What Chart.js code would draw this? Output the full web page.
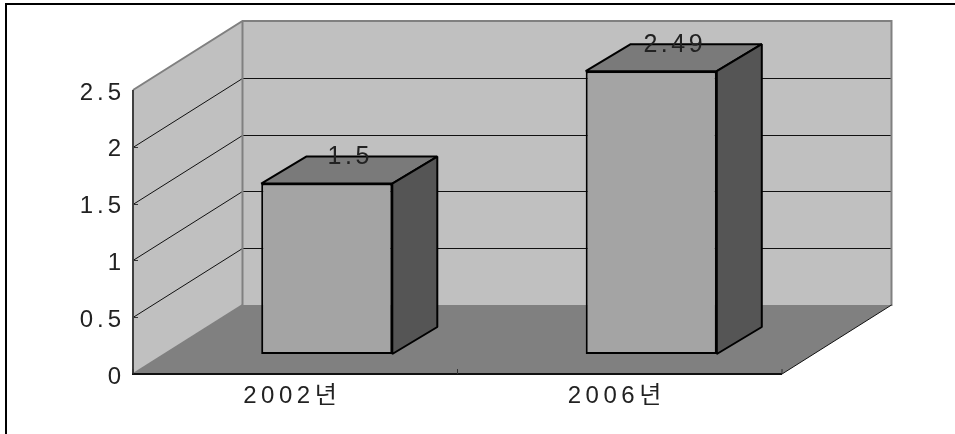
<!DOCTYPE html>
<html>
<head>
<meta charset="utf-8">
<style>
    html, body { margin: 0; padding: 0; background: #fff; overflow: hidden; }
    canvas { display: block; }
</style>
<script src="https://cdn.jsdelivr.net/npm/chart.js@4"></script>
</head>
<body>
<canvas id="barChart" width="955" height="434"></canvas>
<script>
const categories = ['2002년', '2006년'];
const values = [1.5, 2.49];
const valueLabels = ['1.5', '2.49'];
const yMax = 2.5;
const yStep = 0.5;

/** Offsets of the fake 3D box, in pixels. */
const wallDepth = { x: 109.5, y: -69 };
const barStart = { x: 31.5, y: -20 };
const barDepth = { x: 45, y: -27 };
const fontName = '"Liberation Sans", "Noto Sans CJK KR", sans-serif';

function line(ctx, color, width, points) {
    ctx.strokeStyle = color;
    ctx.lineWidth = width;
    ctx.beginPath();
    points.forEach(function(p, i) {
        if (i === 0) ctx.moveTo(p[0], p[1]);
        else ctx.lineTo(p[0], p[1]);
    });
    ctx.stroke();
}

function face(ctx, color, points) {
    ctx.fillStyle = color;
    ctx.strokeStyle = '#000';
    ctx.lineWidth = 2;
    ctx.lineJoin = 'bevel';
    ctx.beginPath();
    points.forEach(function(p, i) {
        if (i === 0) ctx.moveTo(p[0], p[1]);
        else ctx.lineTo(p[0], p[1]);
    });
    ctx.closePath();
    ctx.fill();
    ctx.stroke();
}

const box3d = {
    id: 'box3d',
    beforeDraw(chart) {
        const ctx = chart.ctx;
        const x = chart.scales.x;
        const y = chart.scales.y;
        const dx = wallDepth.x;
        const dy = wallDepth.y;
        const l = x.left, r = x.right, t = y.top, b = y.bottom;

        ctx.save();
        // walls and floor
        ctx.fillStyle = '#c0c0c0';
        ctx.fillRect(l + dx, t + dy, r - l, b - t);
        ctx.beginPath();
        ctx.moveTo(l, t);
        ctx.lineTo(l + dx, t + dy);
        ctx.lineTo(l + dx, b + dy);
        ctx.lineTo(l, b);
        ctx.closePath();
        ctx.fill();
        ctx.fillStyle = '#808080';
        ctx.beginPath();
        ctx.moveTo(l, b);
        ctx.lineTo(l + dx, b + dy);
        ctx.lineTo(r + dx, b + dy);
        ctx.lineTo(r, b);
        ctx.closePath();
        ctx.fill();

        // grid lines from the scale ticks
        y.ticks.forEach(function(tick) {
            if (tick.value === 0 || tick.value === yMax) return;
            const py = Math.round(y.getPixelForValue(tick.value)) + 0.5;
            line(ctx, '#111', 1, [[l, py], [l + dx, py + dy], [r + dx, py + dy]]);
            line(ctx, '#333', 1, [[l, py], [l + 5, py]]);
        });

        // wall outline
        line(ctx, '#808080', 2, [[l, t], [l + dx, t + dy], [r + dx, t + dy], [r + dx, b + dy]]);
        line(ctx, '#808080', 2, [[l + dx, t + dy], [l + dx, b + dy]]);
        line(ctx, '#808080', 2, [[l, b], [l + dx, b + dy]]);
        line(ctx, '#808080', 2, [[r + dx, b + dy], [r + dx, b + dy + 1]]);

        // axes
        line(ctx, '#111', 1, [[r, b], [r + dx, b + dy]]);
        line(ctx, '#404040', 2, [[l, t], [l, b + 1]]);
        line(ctx, '#111', 2, [[l - 1, b], [r, b]]);
        const half = (x.getPixelForValue(1) - x.getPixelForValue(0)) / 2;
        [x.getPixelForValue(0) - half, x.getPixelForValue(0) + half, x.getPixelForValue(1) + half].forEach(function(px) {
            line(ctx, '#333', 1, [[px, b], [px, b - 5]]);
        });

        // page frame
        line(ctx, '#000', 2, [[955, 4], [6, 4], [6, 434]]);
        ctx.restore();

        ctx.letterSpacing = '4px';
    },
    beforeDatasetDraw(chart) {
        chart.ctx.save();
        chart.ctx.translate(barStart.x, barStart.y);
    },
    afterDatasetDraw(chart) {
        chart.ctx.restore();
    },
    afterDatasetsDraw(chart) {
        const ctx = chart.ctx;
        const bars = chart.getDatasetMeta(0).data;

        ctx.save();
        bars.forEach(function(bar, i) {
            const x0 = bar.x - bar.width / 2 + barStart.x;
            const x1 = bar.x + bar.width / 2 + barStart.x;
            const top = bar.y + barStart.y;
            const bottom = bar.base + barStart.y;
            const ox = barDepth.x, oy = barDepth.y;

            face(ctx, '#7a7a7a', [[x0, top], [x0 + ox, top + oy], [x1 + ox, top + oy], [x1, top]]);
            face(ctx, '#555555', [[x1, top], [x1 + ox, top + oy], [x1 + ox, bottom + oy], [x1, bottom]]);

            ctx.fillStyle = '#222';
            ctx.font = '25px ' + fontName;
            ctx.textAlign = 'center';
            ctx.textBaseline = 'middle';
            ctx.letterSpacing = '3.5px';
            ctx.fillText(valueLabels[i], x0 + (x1 - x0) / 2 + ox / 2 + 1, top + oy + 1);
        });
        ctx.restore();

        ctx.letterSpacing = '4.5px';
    }
};

new Chart(document.getElementById('barChart'), {
    type: 'bar',
    data: {
        labels: categories,
        datasets: [{
            data: values,
            backgroundColor: '#a4a4a4',
            borderColor: '#000',
            borderWidth: 2,
            borderSkipped: false,
            categoryPercentage: 1,
            barPercentage: 0.404
        }]
    },
    options: {
        responsive: false,
        animation: false,
        devicePixelRatio: 1,
        layout: { padding: { left: 0, top: 90, right: 173, bottom: 0 } },
        plugins: { legend: { display: false }, tooltip: { enabled: false } },
        scales: {
            x: {
                grid: { display: false, drawTicks: false },
                border: { display: false },
                afterFit(scale) { scale.height = 60; },
                ticks: {
                    z: 1,
                    autoSkip: false,
                    maxRotation: 0,
                    padding: 8,
                    labelOffset: -3,
                    color: '#222',
                    font: { family: fontName, size: 24 }
                }
            },
            y: {
                min: 0,
                max: yMax,
                grid: { display: false, drawTicks: false },
                border: { display: false },
                afterFit(scale) { scale.width = 133; },
                ticks: {
                    stepSize: yStep,
                    padding: 8,
                    labelOffset: 3,
                    color: '#222',
                    font: { family: fontName, size: 24 },
                    callback: function(value) { return String(value); }
                }
            }
        }
    },
    plugins: [box3d]
});
</script>
</body>
</html>
